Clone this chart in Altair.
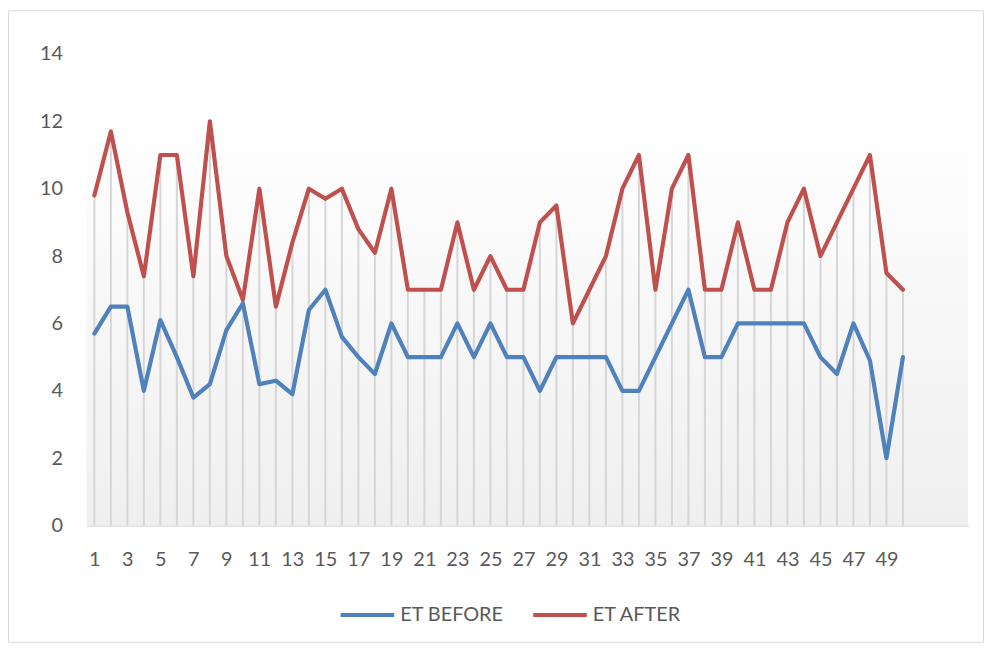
import altair as alt
import pandas as pd

idx = list(range(1, 51))
et_before = [5.7, 6.5, 6.5, 4.0, 6.1, 5.0, 3.8, 4.2, 5.8, 6.6,
             4.2, 4.3, 3.9, 6.4, 7.0, 5.6, 5.0, 4.5, 6.0, 5.0,
             5.0, 5.0, 6.0, 5.0, 6.0, 5.0, 5.0, 4.0, 5.0, 5.0,
             5.0, 5.0, 4.0, 4.0, 5.0, 6.0, 7.0, 5.0, 5.0, 6.0,
             6.0, 6.0, 6.0, 6.0, 5.0, 4.5, 6.0, 4.9, 2.0, 5.0]
et_after = [9.8, 11.7, 9.3, 7.4, 11.0, 11.0, 7.4, 12.0, 8.0, 6.7,
            10.0, 6.5, 8.4, 10.0, 9.7, 10.0, 8.8, 8.1, 10.0, 7.0,
            7.0, 7.0, 9.0, 7.0, 8.0, 7.0, 7.0, 9.0, 9.5, 6.0,
            7.0, 8.0, 10.0, 11.0, 7.0, 10.0, 11.0, 7.0, 7.0, 9.0,
            7.0, 7.0, 9.0, 10.0, 8.0, 9.0, 10.0, 11.0, 7.5, 7.0]
series_names = ["ET BEFORE", "ET AFTER"]
series_colors = ["#4F81BD", "#C0504D"]
x_ticks = list(range(1, 50, 2))
y_ticks = list(range(0, 15, 2))

W, H = 888, 475
FONT = "Lato"
GRAY_TXT = "#595959"

long_df = pd.DataFrame({
    "idx": idx * 2,
    "val": et_before + et_after,
    "series": [series_names[0]] * 50 + [series_names[1]] * 50,
    "order": [0] * 50 + [1] * 50,
})
drop_df = pd.DataFrame({"idx": idx, "after": et_after, "zero": [0] * 50})

x_scale = alt.Scale(domain=[0.52, 53.95], nice=False, zero=False)
y_scale = alt.Scale(domain=[0, 14], nice=False)

x_axis = alt.Axis(values=x_ticks, title=None, grid=False, ticks=False,
                  domain=True, domainColor="#d9d9d9", domainWidth=1.5,
                  labelFont=FONT, labelFontSize=20, labelColor=GRAY_TXT,
                  labelPadding=24, labelFlush=False)
y_axis = alt.Axis(values=y_ticks, title=None, grid=False, ticks=False,
                  domain=False, labelFont=FONT, labelFontSize=20,
                  labelColor=GRAY_TXT, labelPadding=24)

bg = alt.Chart(pd.DataFrame({"a": [0]})).mark_rect(
    color=alt.Gradient(gradient="linear",
                       stops=[alt.GradientStop(color="#ffffff", offset=0),
                              alt.GradientStop(color="#efefef", offset=1)],
                       x1=0, x2=0, y1=0, y2=1)
).encode(x=alt.value(0), x2=alt.value(W), y=alt.value(61), y2=alt.value(H))

border = alt.Chart(pd.DataFrame({"a": [0]})).mark_rect(
    fill=None, stroke="#d9d9d9", strokeWidth=1, clip=False
).encode(x=alt.value(-78.5), x2=alt.value(W + 15.5), y=alt.value(-43.5), y2=alt.value(H + 117.5))

drops = alt.Chart(drop_df).mark_rule(color="#d6d6d6", strokeWidth=2).encode(
    x=alt.X("idx:Q", scale=x_scale, axis=x_axis),
    y=alt.Y("after:Q", scale=y_scale, axis=y_axis),
    y2="zero:Q",
)

lines = alt.Chart(long_df).mark_line(strokeWidth=4.2, strokeJoin="round", strokeCap="round").encode(
    x=alt.X("idx:Q", scale=x_scale, axis=x_axis),
    y=alt.Y("val:Q", scale=y_scale, axis=y_axis),
    color=alt.Color("series:N",
                    scale=alt.Scale(domain=series_names, range=series_colors),
                    legend=alt.Legend(title=None, orient="none", legendX=254, legendY=536,
                                      direction="horizontal", symbolType="stroke",
                                      symbolSize=2916, symbolStrokeWidth=4,
                                      labelFont=FONT, labelFontSize=20, labelColor=GRAY_TXT,
                                      labelOffset=4, columnPadding=21)),
    order="order:Q",
    detail="series:N",
)

chart = alt.layer(border, bg, drops, lines).properties(
    width=W, height=H,
    background="white",
    padding={"left": 79, "top": 44, "right": 16, "bottom": 118},
    autosize=alt.AutoSizeParams(type="none"),
).configure_view(strokeWidth=0, stroke="transparent")

chart.save("out.html", embed_options={"renderer": "svg", "actions": False})
